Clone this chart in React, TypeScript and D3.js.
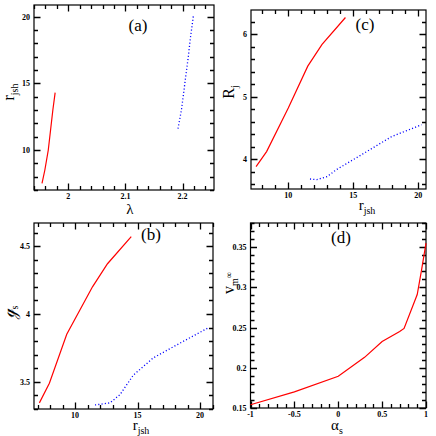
import * as d3 from "d3";

// (a) r_jsh against lambda
const aRedLambda = [1.954, 1.959, 1.965, 1.969, 1.973, 1.977];
const aRedR = [7.5, 8.5, 10, 11.5, 13, 14.3];
const aBlueLambda = [2.192, 2.198, 2.204, 2.21, 2.214, 2.219];
const aBlueR = [11.6, 13, 15, 17, 18.5, 20.1];

// (c) R_j against r_jsh
const cRedR = [7.52, 8.33, 10, 11.5, 12.6, 14.4];
const cRedRj = [3.88, 4.12, 4.82, 5.49, 5.84, 6.27];
const cBlueR = [11.67, 12.2, 13.0, 13.7, 15.4, 17.95, 20.26];
const cBlueRj = [3.68, 3.67, 3.72, 3.83, 4.04, 4.36, 4.55];

// (b) g_s against r_jsh
const bRedR = [7.15, 7.95, 9.34, 11.4, 12.6, 14.5];
const bRedG = [3.345, 3.49, 3.85, 4.2, 4.37, 4.57];
const bBlueR = [11.6, 12.8, 13.6, 14.67, 16.27, 18.1, 20.7];
const bBlueG = [3.33, 3.345, 3.406, 3.55, 3.677, 3.77, 3.9];

// (d) v_m against alpha_s
const dAlpha = [-1, -0.5, 0, 0.3, 0.5, 0.7, 0.75, 0.9, 0.95, 1.0];
const dV = [0.154, 0.17, 0.1895, 0.213, 0.2327, 0.245, 0.249, 0.291, 0.322, 0.355];

// tick labels
const aXTicks = [2, 2.1, 2.2];
const aYTicks = [10, 15, 20];
const rTicks = [10, 15, 20];
const cYTicks = [4, 5, 6];
const bYTicks = [3.5, 4, 4.5];
const dXTicks = [-1, -0.5, 0, 0.5, 1];
const dYTicks = [0.15, 0.2, 0.25, 0.3, 0.35];

const panels = [
  {
    key: "a",
    box: { left: 34, right: 214, top: 5, bottom: 190 },
    xDomain: [1.94, 2.255], yDomain: [7.0, 20.88],
    xTicks: aXTicks, yTicks: aYTicks, xMinor: 0.02, yMinor: 1,
    series: [
      { x: aRedLambda, y: aRedR, color: "#ff0000", dotted: false },
      { x: aBlueLambda, y: aBlueR, color: "#0000ff", dotted: true },
    ],
    tag: { text: "(a)", x: 138, y: 31 },
    xLabel: { main: "λ", sub: "", x: 130, y: 214 },
    yLabel: { main: "r", sub: "jsh", x: 14, y: 92 },
  },
  {
    key: "c",
    box: { left: 251, right: 426, top: 10, bottom: 189 },
    xDomain: [7.13, 20.6], yDomain: [3.52, 6.39],
    xTicks: rTicks, yTicks: cYTicks, xMinor: 1, yMinor: 0.2,
    series: [
      { x: cRedR, y: cRedRj, color: "#ff0000", dotted: false },
      { x: cBlueR, y: cBlueRj, color: "#0000ff", dotted: true },
    ],
    tag: { text: "(c)", x: 365, y: 30 },
    xLabel: { main: "r", sub: "jsh", x: 367, y: 210 },
    yLabel: { main: "R", sub: "j", x: 234, y: 92 },
  },
  {
    key: "b",
    box: { left: 34, right: 213, top: 223, bottom: 409 },
    xDomain: [6.72, 21.04], yDomain: [3.3, 4.67],
    xTicks: rTicks, yTicks: bYTicks, xMinor: 1, yMinor: 0.1,
    series: [
      { x: bRedR, y: bRedG, color: "#ff0000", dotted: false },
      { x: bBlueR, y: bBlueG, color: "#0000ff", dotted: true },
    ],
    tag: { text: "(b)", x: 151, y: 240 },
    xLabel: { main: "r", sub: "jsh", x: 141, y: 430 },
    yLabel: { main: "ℊ", sub: "s", x: 14, y: 312 },
  },
  {
    key: "d",
    box: { left: 250.5, right: 426, top: 223, bottom: 408 },
    xDomain: [-1, 1], yDomain: [0.15, 0.38],
    xTicks: dXTicks, yTicks: dYTicks, xMinor: 0.1, yMinor: 0.01,
    series: [{ x: dAlpha, y: dV, color: "#ff0000", dotted: false }],
    tag: { text: "(d)", x: 341, y: 243 },
    xLabel: { main: "α", sub: "s", x: 337, y: 430 },
    yLabel: { main: "v", sub: "m", sup: "∞", x: 234, y: 283 },
  },
];

const serif = "'Liberation Serif', 'DejaVu Serif', serif";

const minorValues = (domain, step) => {
  const out = [];
  const start = Math.ceil(domain[0] / step - 1e-6);
  const end = Math.floor(domain[1] / step + 1e-6);
  for (let i = start; i <= end; i++) out.push(+(i * step).toFixed(6));
  return out;
};

const isMajor = (v, list) => list.some((t) => Math.abs(t - v) < 1e-6);

const Panel = ({ p }) => {
  const { left, right, top, bottom } = p.box;
  const x = d3.scaleLinear().domain(p.xDomain).range([left, right]);
  const y = d3.scaleLinear().domain(p.yDomain).range([bottom, top]);
  const line = d3
    .line()
    .x((d) => x(d[0]))
    .y((d) => y(d[1]));

  const xs = minorValues(p.xDomain, p.xMinor);
  const ys = minorValues(p.yDomain, p.yMinor);

  // one path with every inward tick of the panel
  let ticks = "";
  xs.forEach((v) => {
    const len = isMajor(v, p.xTicks) ? 6.5 : 4;
    const px = Math.round(x(v)) + 0.5;
    ticks += `M${px},${bottom}V${bottom - len}M${px},${top}V${top + len}`;
  });
  ys.forEach((v) => {
    const len = isMajor(v, p.yTicks) ? 6.5 : 4;
    const py = Math.round(y(v)) + 0.5;
    ticks += `M${left},${py}H${left + len}M${right},${py}H${right - len}`;
  });

  return (
    <g>
      <rect
        x={left}
        y={top}
        width={right - left}
        height={bottom - top}
        fill="none"
        stroke="#000"
        strokeWidth={1.2}
      />
      <path d={ticks} fill="none" stroke="#000" strokeWidth={1.3} />

      {p.series.map((s, i) => (
        <path
          key={i}
          d={line(s.x.map((v, j) => [v, s.y[j]]))}
          fill="none"
          stroke={s.color}
          strokeWidth={s.dotted ? 1.3 : 1.2}
          strokeDasharray={s.dotted ? "1.1,2.2" : undefined}
        />
      ))}

      {p.xTicks.map((d) => (
        <text key={"xt" + d} x={x(d)} y={bottom + 9} textAnchor="middle"
          fontFamily={serif} fontWeight="bold" fontSize={8}>
          {String(d)}
        </text>
      ))}
      {p.yTicks.map((d) => (
        <text key={"yt" + d} x={left - 4} y={y(d) + 3} textAnchor="end"
          fontFamily={serif} fontWeight="bold" fontSize={8}>
          {String(d)}
        </text>
      ))}

      <text x={p.tag.x} y={p.tag.y} textAnchor="middle" fontFamily={serif} fontSize={17}>
        {p.tag.text}
      </text>

      <text x={p.xLabel.x} y={p.xLabel.y} textAnchor="middle" fontFamily={serif} fontSize={15}>
        <tspan>{p.xLabel.main}</tspan>
        {p.xLabel.sub ? <tspan fontSize={10} dy={3.5}>{p.xLabel.sub}</tspan> : null}
      </text>

      <text
        transform={`translate(${p.yLabel.x},${p.yLabel.y}) rotate(-90)`}
        textAnchor="middle"
        fontFamily={serif}
        fontSize={16}
      >
        <tspan>{p.yLabel.main}</tspan>
        <tspan fontSize={10} dy={3.5}>{p.yLabel.sub}</tspan>
        {p.yLabel.sup ? <tspan fontSize={9} dy={-6}>{p.yLabel.sup}</tspan> : null}
      </text>
    </g>
  );
};

const App = () => (
  <svg
    width={436}
    height={436}
    style={{ position: "absolute", left: 0, top: 0, background: "#fff" }}
  >
    {panels.map((p) => (
      <Panel key={p.key} p={p} />
    ))}
  </svg>
);

export default App;
